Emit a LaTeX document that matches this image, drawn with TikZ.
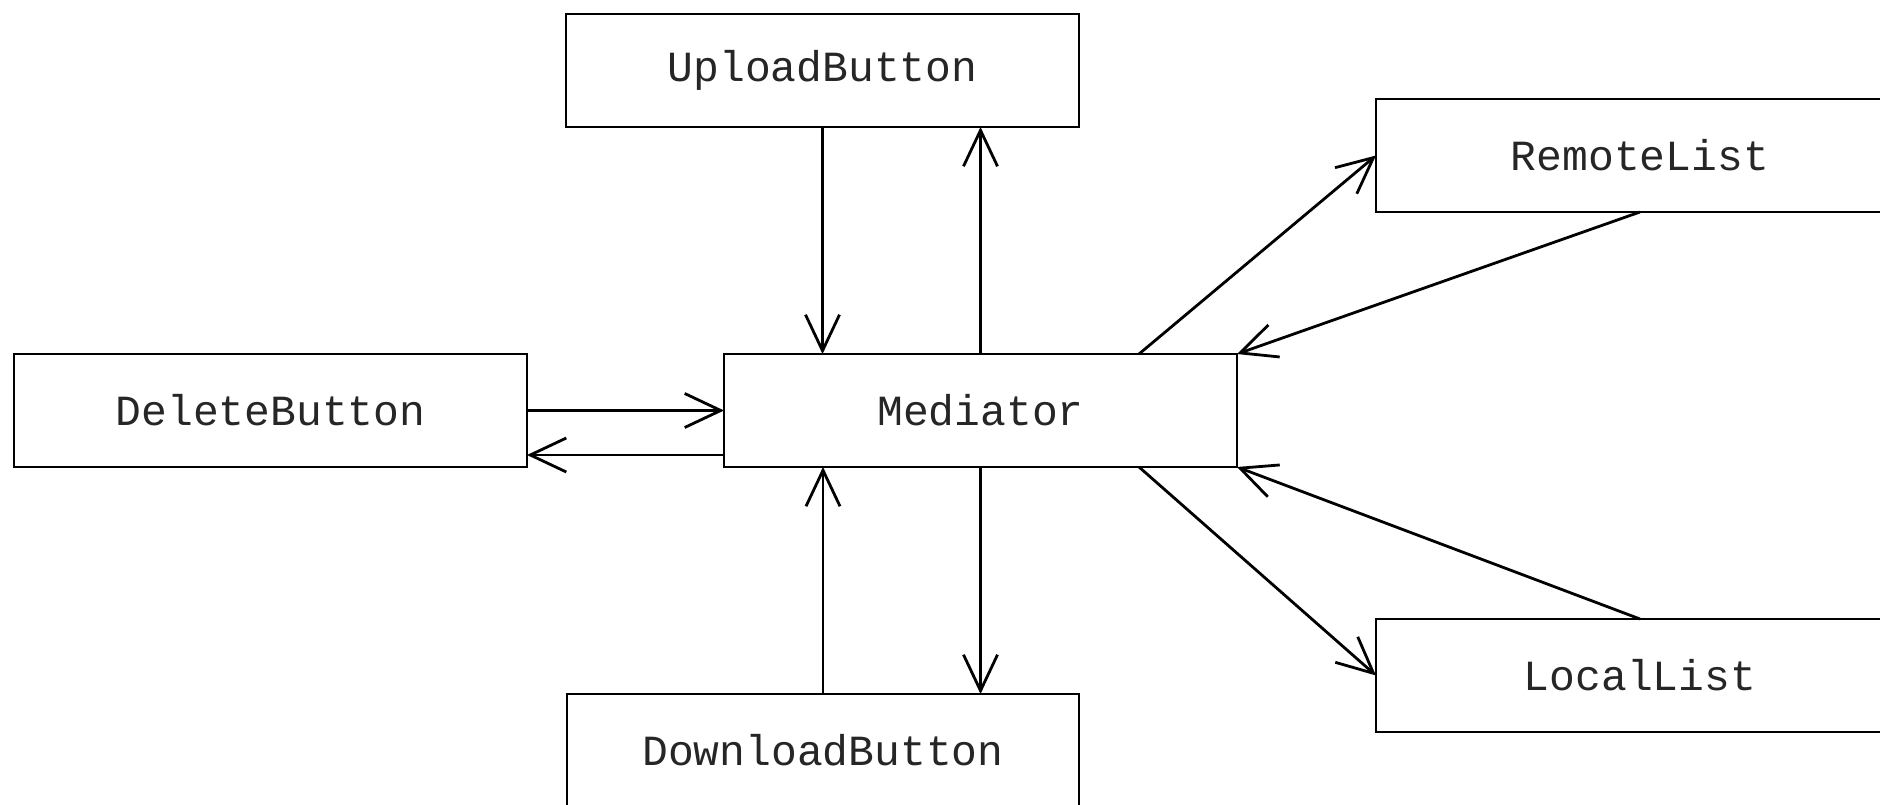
\documentclass[tikz,border=0pt]{standalone}
\usepackage{fontspec}
\setmonofont{Liberation Mono}
\usetikzlibrary{arrows.meta}
\begin{document}
\begin{tikzpicture}[x=1pt,y=-1pt,
  box/.style={draw, line width=2.8pt, inner sep=0pt, outer sep=0pt,
    minimum height=113pt, text=black!85,
    font=\ttfamily\fontsize{43}{50}\selectfont},
  arr/.style={line width=2.8pt, -{Straight Barb[length=36pt,width=34pt,line width=2.8pt]}}]
  % page frame
  \useasboundingbox (0,0) rectangle (1880,805);
  \clip (0,0) rectangle (1880,805);
  % components
  \node[box, minimum width=513pt] (up)   at (822.5,70.5)  {UploadButton};
  \node[box, minimum width=528pt] (rem)  at (1640,155.5)  {RemoteList};
  \node[box, minimum width=513pt] (del)  at (270.5,410.5) {DeleteButton};
  \node[box, minimum width=513pt] (med)  at (980.5,410.5) {Mediator};
  \node[box, minimum width=528pt] (loc)  at (1640,675.5)  {LocalList};
  \node[box, minimum width=512pt] (down) at (823,750.5)   {DownloadButton};
  % vertical links
  \draw[arr] (up.south) -- (up.south |- med.north);
  \draw[arr] (med.north) -- (med.north |- up.south);
  \draw[arr] (down.north) -- (down.north |- med.south);
  \draw[arr] (med.south) -- (med.south |- down.north);
  % horizontal links
  \draw[arr] (del.east) -- (med.west);
  \draw[arr] ([yshift=-44.5pt]med.west) -- ([yshift=-44.5pt]del.east);
  % links to the lists
  \draw[arr] ([xshift=-98pt]med.north east) -- (rem.west);
  \draw[arr] (rem.south) -- (med.north east);
  \draw[arr] ([xshift=-98pt]med.south east) -- (loc.west);
  \draw[arr] (loc.north) -- (med.south east);
\end{tikzpicture}
\end{document}
